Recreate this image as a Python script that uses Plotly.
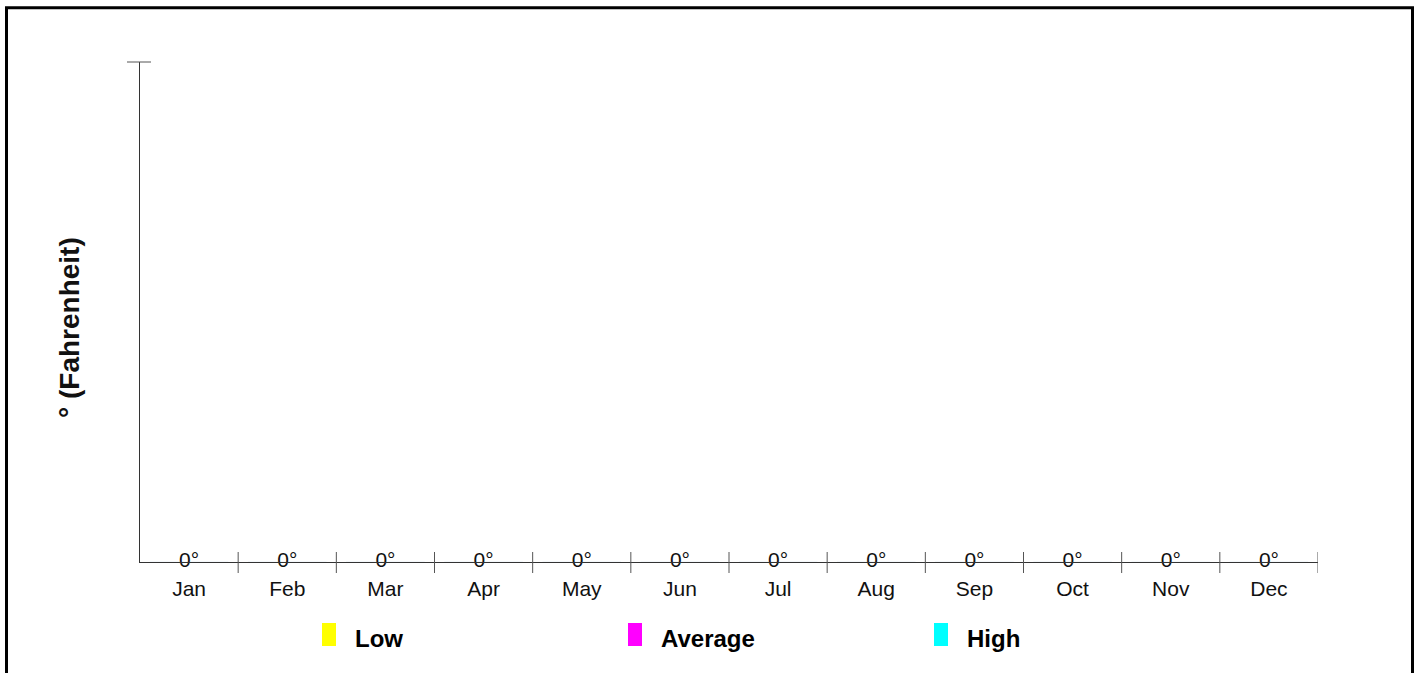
import plotly.graph_objects as go

months = ["Jan", "Feb", "Mar", "Apr", "May", "Jun", "Jul", "Aug", "Sep", "Oct", "Nov", "Dec"]
low = [0, 0, 0, 0, 0, 0, 0, 0, 0, 0, 0, 0]
average = [0, 0, 0, 0, 0, 0, 0, 0, 0, 0, 0, 0]
high = [0, 0, 0, 0, 0, 0, 0, 0, 0, 0, 0, 0]
series_names = ["Low", "Average", "High"]
series_colors = ["#FFFF00", "#FF00FF", "#00FFFF"]
y_title = "° (Fahrenheit)"

W, H = 1419, 673
L, R, T, B = 140, 1318, 62, 562


def px_x(p):
    return (p - L) / (R - L)


def px_y(p):
    return (B - p) / (B - T)


FONT = "Arial, Liberation Sans, sans-serif"

fig = go.Figure()
for name, vals, col in zip(series_names, [low, average, high], series_colors):
    fig.add_trace(go.Bar(x=months, y=vals, name=name, marker_color=col, showlegend=False))

fig.add_trace(go.Scatter(
    x=months, y=average, mode="text",
    text=[f"{v}°" for v in average],
    textposition="middle center",
    textfont=dict(family=FONT, size=21, color="#111"),
    cliponaxis=False, showlegend=False, hoverinfo="skip",
))

shapes = []
for i in range(len(months)):
    shapes.append(dict(type="line", xref="x", yref="paper", x0=i + 0.5, x1=i + 0.5,
                       y0=px_y(573), y1=px_y(552), line=dict(color="#555", width=1)))
shapes.append(dict(type="line", xref="paper", yref="paper", x0=px_x(127), x1=px_x(151),
                   y0=1, y1=1, line=dict(color="#555", width=1)))
shapes.append(dict(type="rect", xref="paper", yref="paper", x0=px_x(6.5), x1=px_x(1412.5),
                   y0=px_y(720), y1=px_y(7.7), line=dict(color="black", width=3)))

annotations = [dict(
    text=f"<b>{y_title}</b>", textangle=-90, xref="paper", yref="paper",
    x=px_x(69), y=px_y(328), xanchor="center", yanchor="middle", showarrow=False,
    font=dict(family=FONT, size=28, color="#111"),
)]

for k, (name, col) in enumerate(zip(series_names, series_colors)):
    x0 = 322 + 306 * k
    shapes.append(dict(type="rect", xref="paper", yref="paper", x0=px_x(x0), x1=px_x(x0 + 14),
                       y0=px_y(646), y1=px_y(623), fillcolor=col, line=dict(width=0)))
    annotations.append(dict(text=f"<b>{name}</b>", xref="paper", yref="paper",
                            x=px_x(x0 + 31), y=px_y(638), xanchor="left", yanchor="middle",
                            showarrow=False, font=dict(family=FONT, size=24, color="black")))

fig.update_layout(
    width=W, height=H,
    margin=dict(l=L, r=W - R, t=T, b=H - B),
    paper_bgcolor="white", plot_bgcolor="white",
    barmode="group", hovermode=False,
    shapes=shapes, annotations=annotations,
    xaxis=dict(type="category", categoryorder="array", categoryarray=months,
               range=[-0.5, len(months) - 0.5], showline=True, linecolor="#333", linewidth=1,
               ticks="", showgrid=False, zeroline=False,
               tickfont=dict(family=FONT, size=21, color="#111"), ticklabelstandoff=8),
    yaxis=dict(range=[0, 1], showline=True, linecolor="#333", linewidth=1, ticks="",
               showticklabels=False, showgrid=False, zeroline=False),
)

fig.write_html("out.html", config={"displayModeBar": False},
               post_script="document.body.style.margin='0';")
